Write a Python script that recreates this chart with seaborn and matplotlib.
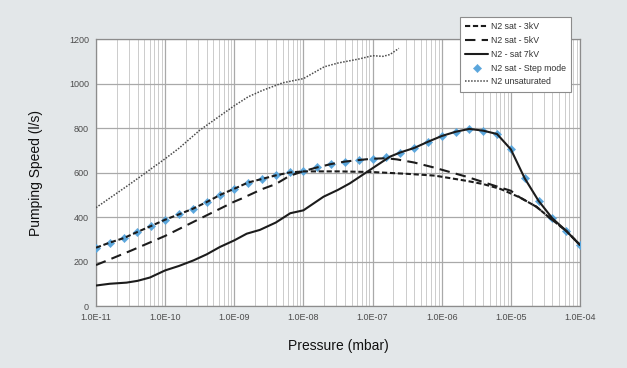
import matplotlib
matplotlib.use('Agg')
import matplotlib.pyplot as plt
import matplotlib.ticker as mticker
import seaborn as sns
import numpy as np
import pandas as pd

# pressures given as log10(mbar), speeds in l/s
step_exp = [-11.0, -10.8, -10.6, -10.4, -10.2, -10.0, -9.8, -9.6, -9.4, -9.2,
            -9.0, -8.8, -8.6, -8.4, -8.2, -8.0, -7.8, -7.6, -7.4, -7.2,
            -7.0, -6.8, -6.6, -6.4, -6.2, -6.0, -5.8, -5.6, -5.4, -5.2,
            -5.0, -4.8, -4.6, -4.4, -4.2, -4.0]
step_speed = [262, 285, 305, 333, 360, 388, 412, 437, 467, 500,
              527, 555, 571, 587, 602, 608, 623, 638, 649, 656,
              662, 668, 688, 708, 738, 764, 783, 796, 788, 773,
              704, 574, 473, 394, 338, 274]

kv3_exp = [-11.0, -10.8, -10.6, -10.4, -10.2, -10.0, -9.8, -9.6, -9.4, -9.2,
           -9.0, -8.8, -8.6, -8.4, -8.2, -8.0, -7.5, -7.0, -6.5, -6.1,
           -5.65, -5.4, -5.15, -4.87, -4.63, -4.43, -4.2, -4.0]
kv3_speed = [262, 285, 305, 333, 360, 388, 412, 437, 467, 500,
             527, 555, 571, 587, 600, 605, 605, 602, 594, 586,
             563, 548, 526, 488, 446, 394, 338, 274]

kv5_exp = [-11.0, -10.5, -10.0, -9.5, -9.0, -8.9, -8.6, -8.4, -8.2, -8.0,
           -7.8, -7.6, -7.4, -7.2, -7.0, -6.8, -6.65, -6.4, -6.12, -5.64,
           -5.16, -5.0, -4.87, -4.63, -4.43, -4.2, -4.0]
kv5_speed = [184, 248, 315, 392, 469, 482, 525, 548, 585, 606,
             623, 638, 649, 656, 662, 664, 659, 645, 623, 581,
             533, 518, 488, 446, 394, 338, 274]

kv7_exp = [-11.0, -10.8, -10.56, -10.4, -10.22, -10.0, -9.8, -9.59, -9.4, -9.21,
           -9.0, -8.82, -8.63, -8.4, -8.19, -8.0, -7.71, -7.5, -7.33, -7.04,
           -6.75, -6.6, -6.4, -6.2, -6.0, -5.8, -5.6, -5.4, -5.2, -5.0,
           -4.8, -4.6, -4.4, -4.2, -4.0]
kv7_speed = [92, 100, 105, 113, 128, 160, 180, 205, 232, 265,
             295, 325, 342, 375, 417, 430, 491, 522, 551, 611,
             671, 690, 710, 738, 764, 783, 796, 788, 773, 704,
             574, 473, 394, 338, 274]

unsat_exp = [-11.0, -10.5, -10.0, -9.8, -9.5, -9.0, -8.8, -8.6, -8.3, -8.0,
             -7.7, -7.5, -7.2, -7.0, -6.85, -6.75, -6.62]
unsat_speed = [442, 550, 662, 709, 790, 900, 940, 968, 1003, 1022,
               1075, 1092, 1110, 1125, 1122, 1130, 1158]

x_ticks = [1e-11, 1e-10, 1e-9, 1e-8, 1e-7, 1e-6, 1e-5, 1e-4]
x_ticklabels = ['1.0E-11', '1.0E-10', '1.0E-09', '1.0E-08',
                '1.0E-07', '1.0E-06', '1.0E-05', '1.0E-04']
y_ticks = [0, 200, 400, 600, 800, 1000, 1200]


def frame(exps, speeds):
    return pd.DataFrame({'p': 10.0 ** np.array(exps), 's': speeds})


sns.set_style('white')
plt.rcParams['font.family'] = ['Liberation Sans', 'DejaVu Sans']

bg = '#e3e7e9'
fig = plt.figure(figsize=(6.27, 3.68), dpi=100, facecolor=bg)
ax = fig.add_axes([96 / 627, 1 - 306 / 368, (580 - 96) / 627, (306 - 39) / 368])
ax.set_facecolor('white')

line_col = '#1c1c1c'
sns.scatterplot(data=frame(step_exp, step_speed), x='p', y='s', ax=ax,
                marker='D', s=18, color='#5aa6dc', edgecolor='#5aa6dc',
                linewidth=0.3, zorder=3, label='N2 sat - Step mode')
sns.lineplot(data=frame(kv3_exp, kv3_speed), x='p', y='s', ax=ax, sort=False,
             color=line_col, lw=1.5, linestyle=(0, (2.5, 1.3)), zorder=4,
             label='N2 sat - 3kV')
sns.lineplot(data=frame(kv5_exp, kv5_speed), x='p', y='s', ax=ax, sort=False,
             color=line_col, lw=1.5, linestyle=(0, (5, 3)), zorder=4,
             label='N2 sat - 5kV')
sns.lineplot(data=frame(kv7_exp, kv7_speed), x='p', y='s', ax=ax, sort=False,
             color=line_col, lw=1.5, zorder=4, label='N2 - sat 7kV')
sns.lineplot(data=frame(unsat_exp, unsat_speed), x='p', y='s', ax=ax, sort=False,
             color='#4a4a4a', lw=1.1, linestyle=(0, (1, 1)), zorder=4,
             label='N2 unsaturated')

ax.set_xscale('log')
ax.set_xlim(1e-11, 1e-4)
ax.set_ylim(0, 1200)
ax.xaxis.set_major_locator(mticker.FixedLocator(x_ticks))
ax.xaxis.set_major_formatter(mticker.FixedFormatter(x_ticklabels))
ax.xaxis.set_minor_locator(mticker.LogLocator(base=10, subs=np.arange(2, 10), numticks=20))
ax.xaxis.set_minor_formatter(mticker.NullFormatter())
ax.set_yticks(y_ticks)

ax.grid(which='major', axis='both', color='#a9a9a9', lw=0.9)
ax.grid(which='minor', axis='x', color='#cccccc', lw=0.7)
ax.set_axisbelow(True)
for sp in ax.spines.values():
    sp.set_color('#8c8c8c')
    sp.set_linewidth(0.9)

ax.tick_params(axis='both', which='major', labelsize=6.5, colors='#8c8c8c',
               labelcolor='#4d4d4d', length=3, width=0.8, pad=2)
ax.tick_params(axis='x', which='minor', length=2, width=0.6, colors='#8c8c8c')

ax.set_xlabel('Pressure (mbar)', fontsize=10, color='#111111', labelpad=12)
ax.set_ylabel('Pumping Speed (l/s)', fontsize=10, color='#111111', labelpad=19)

h, l = ax.get_legend_handles_labels()
order = ['N2 sat - 3kV', 'N2 sat - 5kV', 'N2 - sat 7kV', 'N2 sat - Step mode', 'N2 unsaturated']
hl = dict(zip(l, h))
leg = ax.legend([hl[k] for k in order], order, loc='upper right',
                bbox_to_anchor=(571 / 627, 1 - 17 / 368), bbox_transform=fig.transFigure,
                fontsize=6.3, frameon=True, fancybox=False, framealpha=1,
                edgecolor='#8c8c8c', handlelength=2.6, handletextpad=0.3,
                labelspacing=0.55, borderpad=0.6, borderaxespad=0)
leg.get_frame().set_linewidth(0.8)
for t in leg.get_texts():
    t.set_color('#333333')

fig.savefig('out.png', dpi=100, facecolor=bg)
